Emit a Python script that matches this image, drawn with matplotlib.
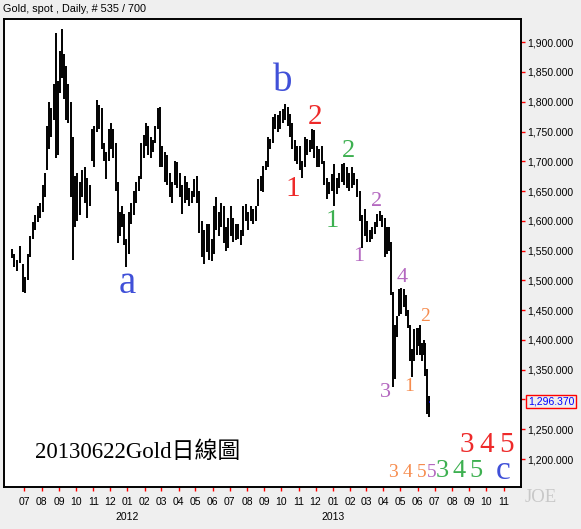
import numpy as np
import pandas as pd
import matplotlib
matplotlib.use("Agg")
import matplotlib.pyplot as plt
import matplotlib.dates as mdates

# === 資料：每月若干根 (high, low)，讀自原圖 ===
months = ["2011-06", "2011-07", "2011-08", "2011-09", "2011-10", "2011-11", "2011-12",
          "2012-01", "2012-02", "2012-03", "2012-04", "2012-05", "2012-06", "2012-07",
          "2012-08", "2012-09", "2012-10", "2012-11", "2012-12",
          "2013-01", "2013-02", "2013-03", "2013-04", "2013-05", "2013-06"]
first_day = "2011-06-06"
last_day = "2013-06-21"

highs = [
    [1552, 1545, 1535, 1558, 1528],
    [1505, 1545, 1575, 1598, 1610, 1625, 1630],
    [1660, 1680, 1760, 1800, 1790, 1830, 1916, 1835],
    [1885, 1922, 1880, 1860, 1830, 1800, 1740, 1675],
    [1680, 1665, 1685, 1690, 1672, 1660, 1755],
    [1760, 1803, 1795, 1790, 1730, 1715, 1755],
    [1765, 1755, 1730, 1665, 1615, 1625, 1612, 1570],
    [1615, 1630, 1650, 1665, 1675, 1730, 1745],
    [1765, 1760, 1740, 1735, 1760, 1790, 1792],
    [1725, 1715, 1710, 1680, 1665, 1700, 1698],
    [1680, 1660, 1675, 1665, 1655, 1650, 1670],
    [1675, 1650, 1600, 1585, 1595, 1595, 1570],
    [1625, 1640, 1615, 1630, 1625, 1590, 1605],
    [1625, 1605, 1595, 1595, 1585, 1625, 1628],
    [1615, 1625, 1620, 1625, 1670, 1675, 1692],
    [1700, 1740, 1738, 1775, 1780, 1778, 1785],
    [1788, 1796, 1792, 1780, 1765, 1735, 1725],
    [1725, 1700, 1740, 1738, 1735, 1755, 1752],
    [1725, 1720, 1725, 1700, 1672, 1665, 1678],
    [1695, 1672, 1680, 1695, 1697, 1690, 1680],
    [1690, 1680, 1670, 1650, 1610, 1620],
    [1600, 1585, 1590, 1598, 1612, 1616, 1610],
    [1605, 1590, 1590, 1565, 1480, 1425, 1440, 1485],
    [1487, 1485, 1475, 1450, 1425, 1385, 1418, 1420],
    [1420, 1425, 1395, 1400, 1395, 1352, 1305],
]
lows = [
    [1538, 1522, 1515, 1530, 1480],
    [1478, 1500, 1540, 1570, 1585, 1598, 1605],
    [1615, 1640, 1685, 1720, 1740, 1770, 1705, 1710],
    [1815, 1840, 1805, 1770, 1765, 1640, 1534, 1590],
    [1600, 1610, 1640, 1630, 1605, 1625, 1700],
    [1690, 1750, 1755, 1720, 1700, 1670, 1700],
    [1720, 1705, 1650, 1562, 1575, 1590, 1560, 1523],
    [1545, 1595, 1610, 1630, 1650, 1670, 1705],
    [1725, 1710, 1705, 1715, 1730, 1755, 1690],
    [1690, 1665, 1660, 1640, 1630, 1660, 1655],
    [1640, 1612, 1630, 1635, 1625, 1630, 1640],
    [1630, 1580, 1540, 1527, 1548, 1535, 1532],
    [1545, 1585, 1575, 1590, 1562, 1550, 1555],
    [1575, 1565, 1568, 1570, 1560, 1575, 1600],
    [1585, 1600, 1595, 1600, 1625, 1650, 1648],
    [1685, 1690, 1720, 1730, 1755, 1750, 1755],
    [1765, 1770, 1760, 1740, 1720, 1700, 1695],
    [1685, 1672, 1690, 1710, 1715, 1720, 1705],
    [1690, 1690, 1695, 1660, 1636, 1645, 1650],
    [1625, 1645, 1655, 1665, 1660, 1655, 1650],
    [1655, 1660, 1640, 1600, 1555, 1575],
    [1565, 1565, 1570, 1578, 1590, 1600, 1590],
    [1540, 1545, 1550, 1475, 1321, 1335, 1405, 1440],
    [1443, 1455, 1440, 1420, 1365, 1338, 1365, 1375],
    [1390, 1375, 1365, 1375, 1340, 1275, 1270],
]
last_close = 1296.370

# 波浪標記 (文字, 日期, 價位, 顏色, 字級)
RED, GRN, PUR, ORG, BLU = "#EE2A2A", "#3DB050", "#B468C0", "#F68C4E", "#4050D8"
waves = [
    ("a", "2011-12-31", 1494, BLU, 28),
    ("b", "2012-10-04", 1834, BLU, 28),
    ("1", "2012-10-22", 1653, RED, 21),
    ("2", "2012-11-30", 1775, RED, 21),
    ("1", "2012-12-31", 1600, GRN, 19),
    ("2", "2013-01-28", 1717, GRN, 19),
    ("1", "2013-02-16", 1540, PUR, 16),
    ("2", "2013-03-20", 1632, PUR, 16),
    ("3", "2013-04-04", 1312, PUR, 16),
    ("4", "2013-05-05", 1505, PUR, 16),
    ("1", "2013-05-16", 1322, ORG, 14),
    ("2", "2013-06-14", 1440, ORG, 14),
    ("3", "2013-08-28", 1223, RED, 21),
    ("4", "2013-10-02", 1223, RED, 21),
    ("5", "2013-11-07", 1223, RED, 21),
    ("3", "2013-04-18", 1177, ORG, 14),
    ("4", "2013-05-14", 1177, ORG, 14),
    ("5", "2013-06-08", 1177, ORG, 14),
    ("5", "2013-06-26", 1177, PUR, 14),
    ("3", "2013-07-14", 1180, GRN, 19),
    ("4", "2013-08-13", 1180, GRN, 19),
    ("5", "2013-09-12", 1180, GRN, 19),
    ("c", "2013-10-31", 1181, BLU, 24),
]

# === 每根棒的日期 ===
t0, t1 = pd.Timestamp(first_day), pd.Timestamp(last_day) + pd.Timedelta(days=1)
xs, hs, ls = [], [], []
for m, hh, ll in zip(months, highs, lows):
    ms = pd.Timestamp(m + "-01")
    me = ms + pd.offsets.MonthBegin(1)
    s, e = max(ms, t0), min(me, t1)
    step = (e - s) / len(hh)
    for i, (h, l) in enumerate(zip(hh, ll)):
        xs.append(mdates.date2num(s + step * (i + 0.5)))
        hs.append(h)
        ls.append(l)

BG = "#EFEFEF"
fig = plt.figure(figsize=(5.81, 5.29), dpi=100, facecolor=BG)
ax = fig.add_axes([4 / 581, 42 / 529, 517 / 581, 468 / 529])
ax.set_facecolor("white")

ax.vlines(xs, ls, hs, color="black", lw=1.4)
ax.hlines(last_close, xs[-1], xs[-1] + 1.5, color="blue", lw=1.2)

ax.set_xlim(mdates.datestr2num("2011-05-26"), mdates.datestr2num("2013-12-02"))
ax.set_ylim(1153, 1939)

for sp in ax.spines.values():
    sp.set_linewidth(1.4)
    sp.set_color("black")

# y 軸在右側
ax.yaxis.tick_right()
ax.set_yticks(np.arange(1200, 1901, 50))
ax.yaxis.set_major_formatter(matplotlib.ticker.FuncFormatter(lambda v, p: f"{v:,.3f}"))
ax.tick_params(axis="y", colors="red", labelcolor="black", length=3, width=1,
               pad=1.5, labelsize=7.5, labelfontfamily="Liberation Sans")

# x 軸：每月刻度 (07/2011 ~ 11/2013)
month_ticks = pd.date_range("2011-07-01", "2013-11-01", freq="MS")
ax.set_xticks(mdates.date2num(month_ticks))
ax.xaxis.set_major_formatter(mdates.DateFormatter("%m"))
ax.tick_params(axis="x", colors="red", labelcolor="black", length=3, width=1,
               pad=4, labelsize=7.5, labelfontfamily="Liberation Sans")

for yr in ["2012", "2013"]:
    ax.text(mdates.datestr2num(yr + "-01-01"), -0.064, yr, transform=ax.get_xaxis_transform(),
            ha="center", va="center", fontsize=7.5, family="Liberation Sans")

# 最新價格框
ax.annotate(f"{last_close:,.3f}", xy=(1.0, last_close), xycoords=("axes fraction", "data"),
            xytext=(5, 0), textcoords="offset points", ha="left", va="center",
            color="blue", fontsize=7.5, family="Liberation Sans",
            bbox=dict(boxstyle="square,pad=0.15", fc=BG, ec="red", lw=1))

for txt, d, y, c, s in waves:
    ax.text(mdates.datestr2num(d), y, txt, color=c, fontsize=s, family="Liberation Serif",
            ha="center", va="center")

ax.text(0.06, 0.075, "20130622Gold日線圖", transform=ax.transAxes, fontsize=16.5,
        family=["Liberation Serif", "Noto Sans CJK TC"], ha="left", va="center")

fig.text(3 / 581, 1 - 9 / 529, "Gold, spot , Daily, # 535 / 700", fontsize=7.8,
         family="Liberation Sans", va="center", ha="left")
fig.text(525 / 581, 1 - 498 / 529, "JOE", fontsize=13.5, family="Liberation Serif",
         color="#C8C8C8", va="center", ha="left")

fig.savefig("out.png", dpi=100, facecolor=BG)
